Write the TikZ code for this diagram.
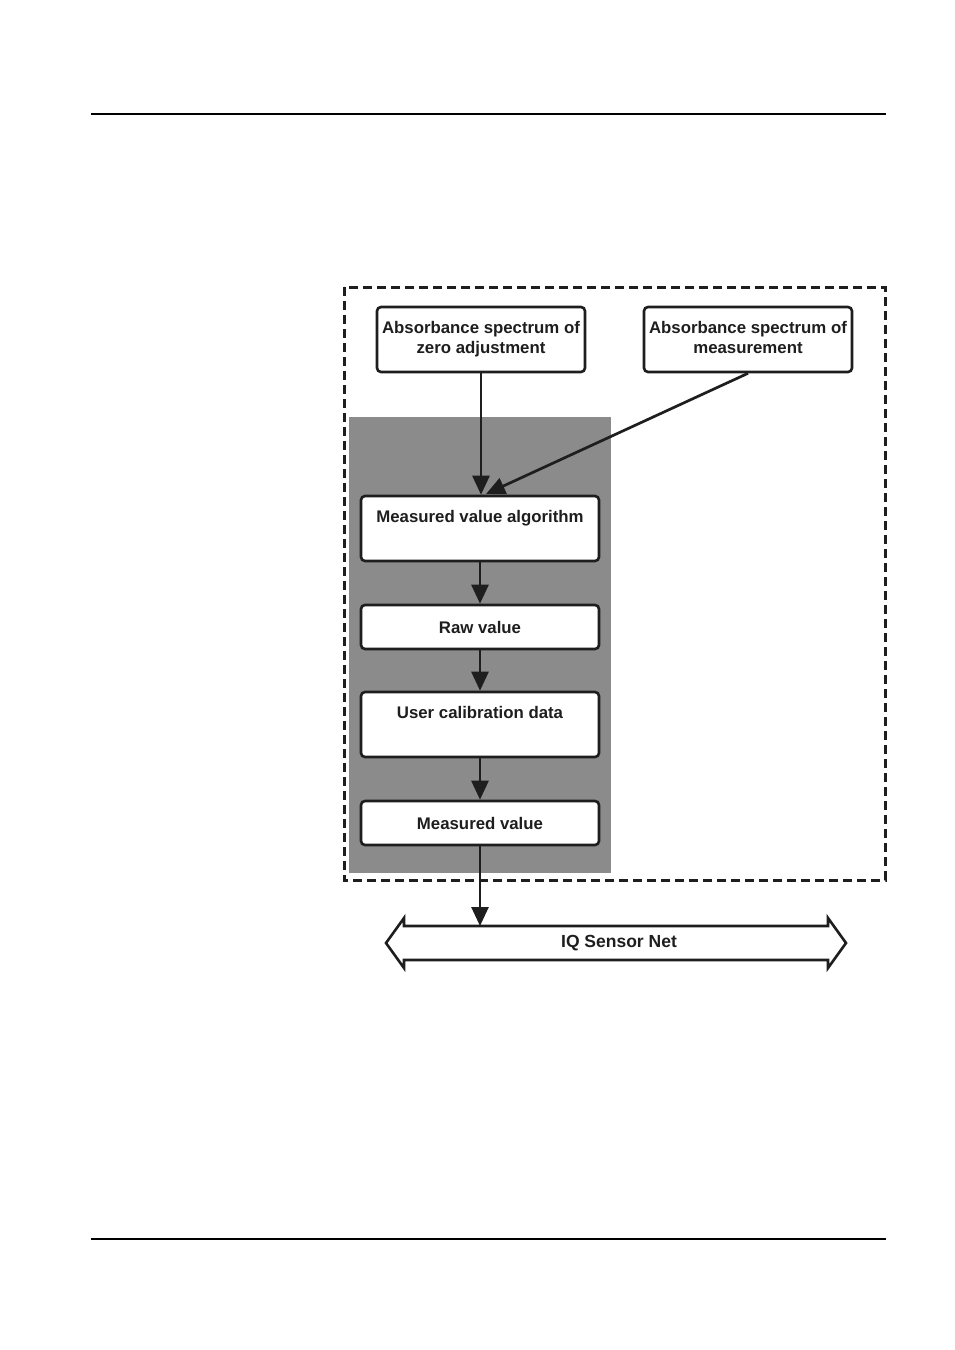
\documentclass[tikz,border=0pt]{standalone}
\usepackage{fontspec}
\setmainfont{Liberation Sans}
\usetikzlibrary{arrows.meta}
\definecolor{panelgray}{RGB}{138,139,138}
\definecolor{ink}{RGB}{30,30,30}
\begin{document}
\begin{tikzpicture}[x=1pt,y=-1pt,
  box/.style={draw=ink, line width=2.6pt, rounded corners=4pt, fill=white,
    align=center, inner sep=0pt, font=\fontsize{16.8}{19.5}\selectfont\bfseries,
    text=ink},
  tallbox/.style={box, minimum height=65pt},
  flatbox/.style={box, minimum height=44pt, minimum width=238pt},
  conn/.style={draw=ink, line width=2.7pt, -{Triangle[length=19pt,width=17pt]}},
  rule/.style={draw=black, line width=1.1pt}
]
\useasboundingbox (0,0) rectangle (954,1350);
% page rules
\draw[rule] (91,114) -- (886,114);
\draw[rule] (91,1239) -- (886,1239);
% dashed frame
\draw[ink, line width=3pt, dash pattern=on 9pt off 5pt] (344,287) rectangle (885,880);
% grey panel
\fill[panelgray] (349,417) rectangle (611,873);
% boxes
\node[tallbox, minimum width=208pt] (zero) at (481,339.5) {Absorbance spectrum of\strut\\zero adjustment\strut};
\node[tallbox, minimum width=208pt] (meas) at (748,339.5) {Absorbance spectrum of\strut\\measurement\strut};
\node[tallbox, minimum width=238pt] (algo) at (480,528.5) {Measured value algorithm\strut\\\strut};
\node[flatbox] (raw) at (480,627) {Raw value};
\node[tallbox, minimum width=238pt] (ucal) at (480,724.5) {User calibration data\strut\\\strut};
\node[flatbox] (mval) at (480,823) {Measured value};
% bus double arrow
\draw[ink, line width=2.6pt, line join=miter, fill=white]
  (386,943) -- (404,918) -- (404,926) -- (828,926) -- (828,918) -- (846,943)
  -- (828,968) -- (828,960) -- (404,960) -- (404,968) -- cycle;
\node[font=\fontsize{17.5}{20}\selectfont\bfseries, text=ink] (bus) at (619,943) {IQ Sensor Net};
\coordinate (busin) at (mval.south |- 0,926);
\coordinate (algoin) at (486,494);
% connectors
\draw[conn] (zero.south) -- (zero.south |- algo.north);
\draw[conn] (meas.south) -- (algoin);
\draw[conn] (algo.south) -- (raw.north);
\draw[conn] (raw.south) -- (ucal.north);
\draw[conn] (ucal.south) -- (mval.north);
\draw[conn] (mval.south) -- (busin);
\end{tikzpicture}
\end{document}
